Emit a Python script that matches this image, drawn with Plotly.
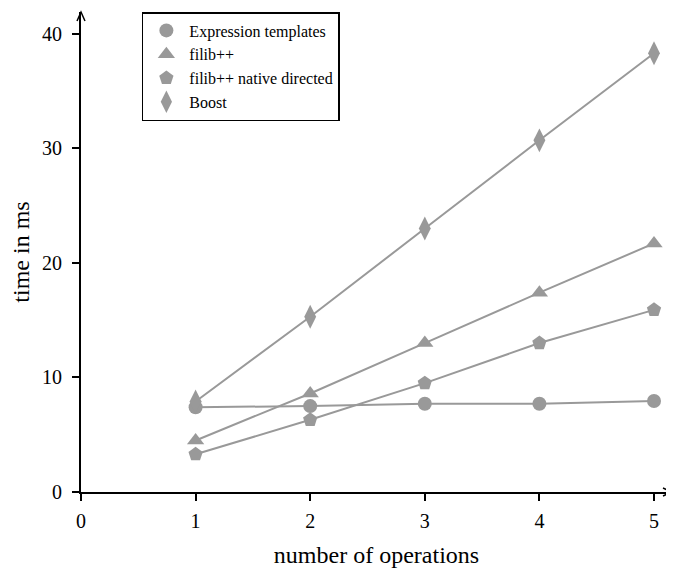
import plotly.graph_objects as go

ops = [1, 2, 3, 4, 5]
expr_templates = [7.4, 7.5, 7.7, 7.7, 7.95]
filib = [4.5, 8.6, 13.0, 17.4, 21.7]
filib_native = [3.3, 6.3, 9.5, 13.0, 15.9]
boost = [7.9, 15.3, 23.0, 30.7, 38.3]

x_ticks = [0, 1, 2, 3, 4, 5]
y_ticks = [0, 10, 20, 30, 40]

gray = "#999999"
series = [
    ("Expression templates", expr_templates, "circle", 14),
    ("filib++", filib, "triangle-up", 15),
    ("filib++ native directed", filib_native, "pentagon", 15),
    ("Boost", boost, "diamond-tall", 17),
]

fig = go.Figure()
for name, vals, sym, sz in series:
    fig.add_trace(go.Scatter(
        x=ops, y=vals, name=name, mode="lines+markers", showlegend=False,
        line=dict(color=gray, width=2),
        marker=dict(symbol=sym, size=sz, color=gray, line=dict(width=0)),
    ))
for name, vals, sym, sz in series:
    fig.add_trace(go.Scatter(
        x=[None], y=[None], name=name, mode="markers",
        marker=dict(symbol=sym, size=sz, color=gray, line=dict(width=0)),
    ))

xmax = 5.157
ymax = 41.9
fig.update_layout(
    width=674, height=571,
    margin=dict(l=73, r=10, t=4, b=87),
    plot_bgcolor="white", paper_bgcolor="white",
    font=dict(family="Liberation Serif, Times New Roman, serif", size=20, color="black"),
    xaxis=dict(
        range=[0, xmax], tickvals=x_ticks, showgrid=False, zeroline=False,
        showline=True, linecolor="black", linewidth=2, automargin=False,
        ticks="outside", ticklen=7, tickwidth=2, tickcolor="black",
        ticklabelstandoff=3,
        title=dict(text="number of operations", standoff=15),
    ),
    yaxis=dict(
        range=[0, ymax], tickvals=y_ticks, showgrid=False, zeroline=False,
        showline=True, linecolor="black", linewidth=2, automargin=False,
        ticks="outside", ticklen=7, tickwidth=2, tickcolor="black",
        ticklabelstandoff=6,
        title=dict(text="time in ms", standoff=14),
    ),
    legend=dict(
        x=0.103, y=1, xanchor="left", yanchor="top",
        bordercolor="black", borderwidth=1.5, bgcolor="white",
        font=dict(size=16), itemwidth=36,
    ),
    showlegend=True,
)

fig.add_shape(type="path", xref="paper", yref="paper", xsizemode="pixel", ysizemode="pixel",
              xanchor=1, yanchor=0, path="M -9 -4 L 0 0 L -9 4",
              line=dict(color="black", width=1.5), layer="above")
fig.add_shape(type="path", xref="paper", yref="paper", xsizemode="pixel", ysizemode="pixel",
              xanchor=0, yanchor=1, path="M -4 -9 L 0 0 L 4 -9",
              line=dict(color="black", width=1.5), layer="above")

fig.write_html("out.html")
